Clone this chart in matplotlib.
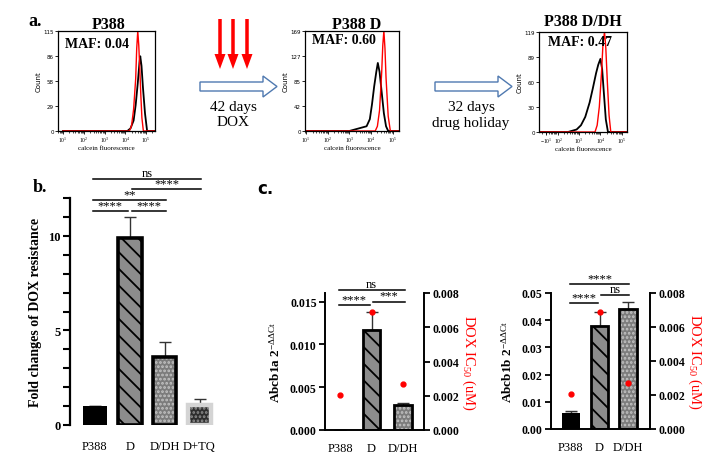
import numpy as np
import matplotlib
matplotlib.use("Agg")
import matplotlib.pyplot as plt
from matplotlib.patches import FancyArrow
from matplotlib.ticker import FormatStrFormatter, MultipleLocator

plt.rcParams['font.family'] = ['Liberation Serif', 'DejaVu Serif']
plt.rcParams['mathtext.fontset'] = 'custom'
plt.rcParams['mathtext.rm'] = 'Liberation Serif'
plt.rcParams['mathtext.it'] = 'Liberation Serif:italic'
plt.rcParams['mathtext.bf'] = 'Liberation Serif:bold'
plt.rcParams['hatch.linewidth'] = 1.3

# ---- panel a: calcein histograms (x in log10 units) ----
h_titles = ["P388", "P388 D", "P388 D/DH"]
h_maf = ["MAF: 0.04", "MAF: 0.60", "MAF: 0.47"]
h_yticks = [[0, 29, 58, 86, 115], [0, 42, 85, 127, 169], [0, 30, 60, 89, 119]]

h1_red_x = [1.0, 4.2, 4.3, 4.4, 4.5, 4.55, 4.6, 4.65, 4.7, 4.75, 4.8, 4.87, 5.4]
h1_red_y = [0, 0, 6, 25, 60, 95, 115, 98, 70, 40, 15, 0, 0]
h1_blk_x = [1.0, 4.1, 4.25, 4.4, 4.5, 4.6, 4.68, 4.72, 4.78, 4.85, 4.95, 5.05, 5.4]
h1_blk_y = [0, 0, 3, 12, 30, 55, 78, 86, 75, 50, 20, 0, 0]

h2_red_x = [1.0, 4.2, 4.3, 4.4, 4.5, 4.55, 4.6, 4.65, 4.7, 4.8, 4.9, 5.3]
h2_red_y = [0, 0, 8, 35, 100, 145, 169, 140, 90, 25, 0, 0]
h2_blk_x = [1.0, 3.0, 3.3, 3.6, 3.8, 3.95, 4.05, 4.15, 4.25, 4.32, 4.4, 4.5, 4.6, 4.7, 4.8, 5.3]
h2_blk_y = [0, 0, 3, 6, 8, 20, 45, 75, 100, 115, 100, 65, 30, 8, 0, 0]

h3_red_x = [1.2, 3.75, 3.85, 3.95, 4.05, 4.12, 4.19, 4.25, 4.32, 4.4, 4.48, 5.2]
h3_red_y = [0, 0, 8, 30, 70, 105, 119, 100, 60, 20, 0, 0]
h3_blk_x = [1.2, 2.5, 2.9, 3.1, 3.3, 3.5, 3.65, 3.8, 3.9, 4.0, 4.08, 4.15, 4.25, 4.35, 5.2]
h3_blk_y = [0, 0, 3, 8, 18, 35, 52, 70, 80, 87, 75, 50, 15, 0, 0]

# ---- panel b: fold change of DOX resistance ----
b_cats = ["P388", "D", "D/DH", "D+TQ"]
b_vals = [1.0, 9.9, 3.6, 1.05]
b_err = [0.0, 1.12, 0.78, 0.35]
b_sig_pairs = [(0, 1), (1, 2), (0, 2), (1, 3), (0, 3)]
b_sig_labels = ["****", "****", "**", "****", "ns"]
b_sig_levels = [11.3, 11.3, 11.9, 12.45, 13.0]

# ---- panel c: Abcb1a / Abcb1b expression and DOX IC50 ----
c_cats = ["P388", "D", "D/DH"]
abcb1a_vals = [0.0, 0.0117, 0.0029]
abcb1a_err = [0.0, 0.0021, 0.0003]
abcb1b_vals = [0.006, 0.038, 0.0441]
abcb1b_err = [0.0008, 0.005, 0.0026]
ic50_vals = [0.00205, 0.0069, 0.0027]
c1_sig_pairs = [(0, 1), (1, 2), (0, 2)]
c1_sig_labels = ["****", "***", "ns"]
c1_sig_levels = [0.01455, 0.0150, 0.0163]
c2_sig_pairs = [(0, 1), (1, 2), (0, 2)]
c2_sig_labels = ["****", "ns", "****"]
c2_sig_levels = [0.0463, 0.0493, 0.0533]

fig = plt.figure(figsize=(7.22, 4.64), dpi=100)
W, H = 722.0, 464.0


def px_axes(left, top, right, bottom):
    return fig.add_axes([left / W, 1 - bottom / H, (right - left) / W, (bottom - top) / H])


# --- histograms ---
h_boxes = [(58, 32, 155, 132), (305, 32, 399, 132), (539, 33, 627, 133)]
h_xlims = [(0.76, 5.43), (0.95, 5.3), (1.16, 5.23)]
h_xticks = [[1, 2, 3, 4, 5], [1, 2, 3, 4, 5], [1.5, 2.05, 3, 4, 5]]
h_xlabels = [[f"$10^{k}$" for k in range(1, 6)], [f"$10^{k}$" for k in range(1, 6)],
             ["$-10^1$"] + [f"$10^{k}$" for k in range(2, 6)]]
h_maf_pos = [(0.07, 0.88), (0.075, 0.92), (0.10, 0.91)]
curves = [(h1_red_x, h1_red_y, h1_blk_x, h1_blk_y),
          (h2_red_x, h2_red_y, h2_blk_x, h2_blk_y),
          (h3_red_x, h3_red_y, h3_blk_x, h3_blk_y)]
for i in range(3):
    ax = px_axes(*h_boxes[i])
    rx, ry, bx, by = curves[i]
    ax.plot(bx, by, color="black", lw=1.3)
    ax.plot(rx, ry, color="red", lw=1.0)
    ax.set_xlim(*h_xlims[i])
    ax.set_ylim(0, h_yticks[i][-1])
    ax.set_yticks(h_yticks[i])
    ax.set_yticklabels([str(v) for v in h_yticks[i]], fontsize=4, family="DejaVu Sans")
    ax.set_xticks(h_xticks[i])
    ax.set_xticklabels(h_xlabels[i], fontsize=4)
    minor = [k + np.log10(m) for k in range(0, 6) for m in range(2, 10)]
    minor = [m for m in minor if h_xlims[i][0] < m < h_xlims[i][1]]
    ax.set_xticks(minor, minor=True)
    ax.tick_params(length=2, width=0.6, pad=1)
    ax.tick_params(which="minor", length=1.2, width=0.5)
    ax.set_ylabel("Count", fontsize=5, family="DejaVu Sans", labelpad=1)
    ax.set_xlabel("calcein fluorescence", fontsize=5, labelpad=0.5)
    for s in ax.spines.values():
        s.set_linewidth(0.9)
    ax.text(*h_maf_pos[i], h_maf[i], transform=ax.transAxes, fontsize=10,
            fontweight="bold", ha="left", va="center")


# --- helpers for bar panels ---
def draw_bar(ax, x, v, w, style, edge_lw):
    if style == "solid":
        ax.bar(x, v, w, color="black", edgecolor="black", lw=0, zorder=2)
    elif style == "stripe":
        ax.bar(x, v, w, color="#8c8c8c", edgecolor="black", hatch="\\\\",
               lw=edge_lw, zorder=2)
    elif style == "dots":
        ax.bar(x, v, w, color="#7c7c7c", edgecolor="#c4c4c4", hatch="....",
               lw=0, zorder=2)
        ax.bar(x, v, w, fill=False, edgecolor="black", lw=edge_lw, zorder=3)
    elif style == "tq":
        ax.bar(x, v, w, color="#2e2e2e", edgecolor="#8e8e8e", hatch="....",
               lw=0, zorder=2)
        ax.bar(x, v, w, fill=False, edgecolor="#d4d4d4", lw=edge_lw + 0.6, zorder=3)


def sig(ax, pairs, labels, levels, fs, gap):
    for (a, b), lab, y in zip(pairs, labels, levels):
        x1 = a - 0.05 if a == 0 else a + gap
        x2 = b - gap if (b - a) == 1 and a == 0 else b + 0.05
        ax.plot([x1, x2], [y, y], color="black", lw=1.1, clip_on=False, zorder=4)
        ax.text((x1 + x2) / 2, y, lab, ha="center", va="bottom", fontsize=fs,
                clip_on=False, zorder=4)


# --- panel b ---
axb = px_axes(70, 199, 217, 426)
b_styles = ["solid", "stripe", "dots", "tq"]
xb = np.arange(len(b_cats))
for x, v, st in zip(xb, b_vals, b_styles):
    draw_bar(axb, x, v, 0.68, st, 2.6)
axb.errorbar(xb, b_vals, yerr=[np.zeros(len(b_err)), b_err], fmt="none",
             ecolor="#333333", elinewidth=1, capsize=4.5, capthick=1, zorder=1)
axb.set_xlim(-0.71, 3.5)
axb.set_ylim(0, 12)
axb.yaxis.set_major_locator(MultipleLocator(5))
axb.yaxis.set_minor_locator(MultipleLocator(1))
axb.set_xticks(xb)
axb.set_xticklabels(b_cats, fontsize=9)
axb.tick_params(axis="x", length=0, pad=11)
axb.tick_params(axis="y", length=5, width=1.5, labelsize=9, pad=2)
axb.tick_params(axis="y", which="minor", length=5, width=1.5)
for lab in axb.get_yticklabels():
    lab.set_fontweight("bold")
for s in ["top", "right", "bottom"]:
    axb.spines[s].set_visible(False)
axb.spines["left"].set_linewidth(1.6)
axb.set_ylabel("Fold changes of DOX resistance", fontsize=10, fontweight="bold", labelpad=4)
sig(axb, b_sig_pairs, b_sig_labels, b_sig_levels, 9, 0.06)


# --- panel c ---
def c_panel(box, vals, err, styles, ylim, ystep, yfmt, ylabel, xlim, width,
            pairs, labels, levels):
    ax = px_axes(*box)
    xc = np.arange(len(c_cats))
    for x, v, st in zip(xc, vals, styles):
        draw_bar(ax, x, v, width, st, 2.0)
    ax.errorbar(xc, vals, yerr=[np.zeros(len(err)), err], fmt="none",
                ecolor="#333333", elinewidth=1, capsize=4, capthick=1, zorder=1)
    ax.set_xlim(*xlim)
    ax.set_ylim(*ylim)
    ax.yaxis.set_major_locator(MultipleLocator(ystep))
    ax.yaxis.set_major_formatter(FormatStrFormatter(yfmt))
    ax.set_xticks(xc)
    ax.set_xticklabels(c_cats, fontsize=9)
    ax.tick_params(axis="x", length=0, pad=9)
    ax.tick_params(axis="y", length=4, width=1.3, labelsize=8.5, pad=2)
    for lab in ax.get_yticklabels():
        lab.set_fontweight("bold")
    ax.spines["top"].set_visible(False)
    ax.spines["right"].set_visible(False)
    ax.spines["left"].set_linewidth(1.4)
    ax.spines["bottom"].set_linewidth(1.4)
    ax.set_ylabel(ylabel, fontsize=9.5, fontweight="bold", labelpad=5)

    ax2 = ax.twinx()
    ax2.plot(xc, ic50_vals, "o", color="red", ms=3.5, zorder=5, clip_on=False)
    ax2.set_ylim(0, 0.008)
    ax2.yaxis.set_major_locator(MultipleLocator(0.002))
    ax2.yaxis.set_major_formatter(FormatStrFormatter("%.3f"))
    ax2.tick_params(axis="y", length=4, width=1.3, labelsize=8.5, pad=2)
    for lab in ax2.get_yticklabels():
        lab.set_fontweight("bold")
    for s in ["top", "left", "bottom"]:
        ax2.spines[s].set_visible(False)
    ax2.spines["right"].set_linewidth(1.4)
    ax2.set_ylabel("DOX IC$_{50}$ (uM)", color="red", fontsize=10.5,
                   rotation=270, labelpad=13)
    sig(ax, pairs, labels, levels, 9, 0.04)
    return ax


c_panel((325, 294, 424, 431), abcb1a_vals, abcb1a_err, ["solid", "stripe", "dots"],
        (0, 0.016), 0.005, "%.3f", r"Abcb1a 2$^{-\Delta\Delta\mathrm{Ct}}$",
        (-0.48, 2.67), 0.57, c1_sig_pairs, c1_sig_labels, c1_sig_levels)
c_panel((551, 294, 650, 430), abcb1b_vals, abcb1b_err, ["solid", "stripe", "dots"],
        (0, 0.05), 0.01, "%.2f", r"Abcb1b 2$^{-\Delta\Delta\mathrm{Ct}}$",
        (-0.70, 2.77), 0.63, c2_sig_pairs, c2_sig_labels, c2_sig_levels)

# --- overlay: panel letters, titles, treatment arrows ---
ov = fig.add_axes([0, 0, 1, 1])
ov.set_xlim(0, W)
ov.set_ylim(H, 0)
ov.axis("off")
for x, y, s in [(35, 22, "a."), (40, 188, "b.")]:
    ov.text(x, y, s, fontsize=13, fontweight="bold", ha="center", va="center")
ov.text(265, 189, "c.", fontsize=12, fontweight="bold", ha="center", va="center",
        family="DejaVu Sans")
for x, y, s in [(109, 25, h_titles[0]), (357, 25, h_titles[1]), (583, 22, h_titles[2])]:
    ov.text(x, y, s, fontsize=11.5, fontweight="bold", ha="center", va="center")
for x in [220, 233, 247]:
    ov.add_patch(FancyArrow(x, 20, 0, 50, width=3.5, head_width=11, head_length=15,
                            length_includes_head=True, color="#ff0000", lw=0))
for x0, x1 in [(200, 277), (435, 512)]:
    ov.add_patch(FancyArrow(x0, 87.5, x1 - x0, 0, width=9, head_width=21, head_length=14,
                            length_includes_head=True, facecolor="white",
                            edgecolor="#4f79b0", lw=1.0))
ov.text(233, 107, "42 days", fontsize=11, ha="center", va="center")
ov.text(233, 123, "DOX", fontsize=11, ha="center", va="center")
ov.text(471, 107, "32 days", fontsize=11, ha="center", va="center")
ov.text(471, 123, "drug holiday", fontsize=11, ha="center", va="center")

fig.savefig("out.png", dpi=100)
